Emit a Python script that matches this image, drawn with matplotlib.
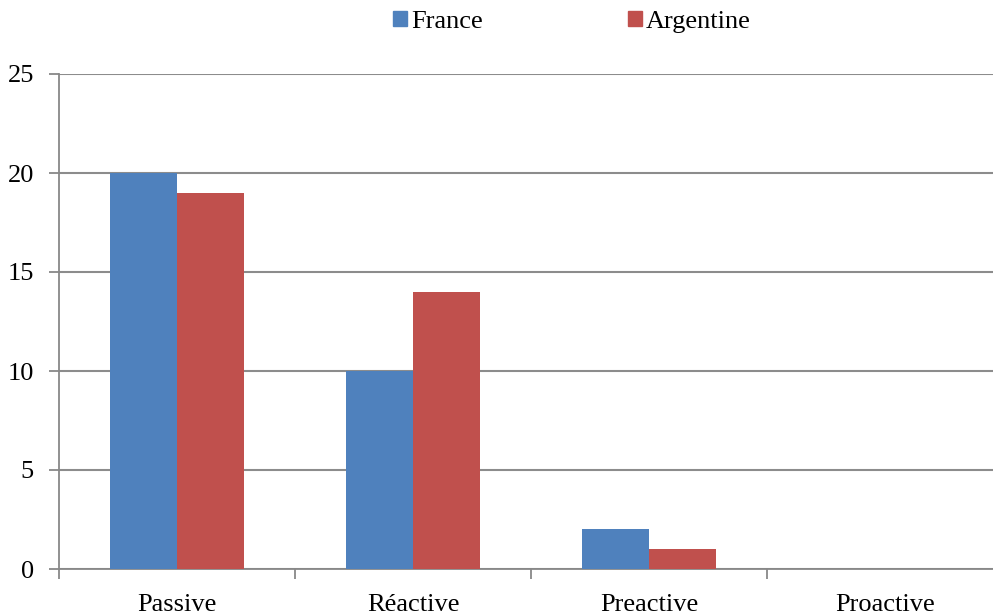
import matplotlib
matplotlib.use("Agg")
import matplotlib.pyplot as plt
import numpy as np
from matplotlib.patches import Patch

categories = ["Passive", "Réactive", "Preactive", "Proactive"]
france = [20, 10, 2, 0]
argentine = [19, 14, 1, 0]
series_names = ["France", "Argentine"]
colors = ["#4F81BD", "#C0504D"]
yticks = [0, 5, 10, 15, 20, 25]

plt.rcParams['font.family'] = ['Liberation Serif', 'DejaVu Serif']

fig = plt.figure(figsize=(9.93, 6.13), dpi=100)
ax = fig.add_axes([59/993, 44/613, 944/993, 495/613])

x = np.arange(len(categories))
w = 0.284
ax.bar(x - w/2, france, width=w, color=colors[0], zorder=3)
ax.bar(x + w/2, argentine, width=w, color=colors[1], zorder=3)

ax.set_xlim(-0.5, len(categories) - 0.5)
ax.set_ylim(0, 25)
ax.set_yticks(yticks)
ax.set_yticklabels([str(t) for t in yticks], fontsize=19)
ax.set_xticks(x)
ax.set_xticklabels(categories, fontsize=19)
ax.tick_params(axis='x', length=0, pad=18)
ax.tick_params(axis='y', length=7, color='#888888', width=1.3, pad=11)
# category separator ticks
ax.set_xticks(np.arange(-0.5, len(categories), 1), minor=True)
ax.tick_params(axis='x', which='minor', length=7, color='#888888', width=1.3)

ax.grid(axis='y', color='#8c8c8c', linewidth=1.5, zorder=0)
for s in ['top', 'right']:
    ax.spines[s].set_visible(False)
for s in ['left', 'bottom']:
    ax.spines[s].set_color('#888888')
    ax.spines[s].set_linewidth(1.3)

handles = [Patch(color=c) for c in colors]
fig.legend(handles, series_names, loc='center', bbox_to_anchor=(572/993, 1 - 22/613),
           ncol=2, frameon=False, fontsize=19, handlelength=0.53, handleheight=0.53,
           handletextpad=0.15, columnspacing=5.5)

fig.savefig("out.png", dpi=100)
